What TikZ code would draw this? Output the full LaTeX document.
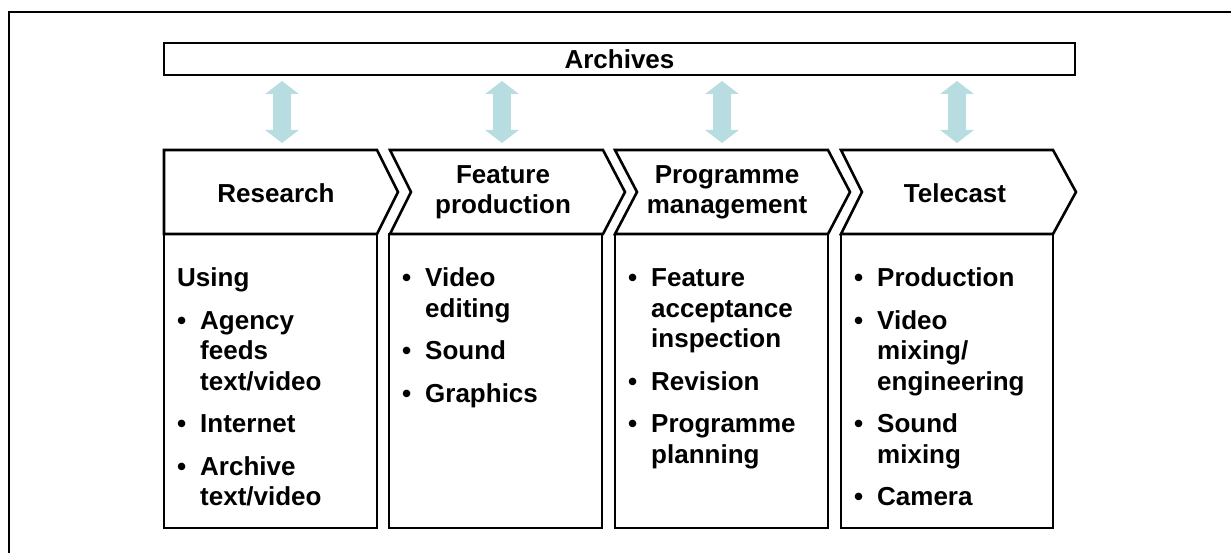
\documentclass[tikz,border=0pt]{standalone}
\usepackage{fontspec}
\setmainfont{Liberation Sans}
\usetikzlibrary{arrows.meta}
\definecolor{arrowblue}{RGB}{183,221,224}
\begin{document}
\begin{tikzpicture}[x=1pt,y=-1pt,
  shapeline/.style={draw=black,line width=2.6pt,line join=miter},
  framelne/.style={draw=black,line width=2pt},
  lbl/.style={font=\fontsize{26}{30}\selectfont\bfseries,align=center,inner sep=0pt},
  listtext/.style={font=\fontsize{26}{30.5}\selectfont\bfseries,inner sep=0pt,anchor=base west},
  dblarrow/.style={draw=arrowblue,line width=18pt,
    {Triangle[width=33pt,length=13pt]}-{Triangle[width=33pt,length=13pt]}}]
\useasboundingbox (0,0) rectangle (1231,553);
% outer frame (only top and left visible)
\draw[framelne] (9,553) -- (9,12) -- (1231,12);
% Archives bar
\draw[shapeline] (164,43) rectangle (1075,75);
\node[lbl] (arch) at (619.5,59) {Archives};
% chevrons
\draw[shapeline] (164,150) -- (377,150) -- (398,192) -- (377,234) -- (164,234) -- cycle;
\draw[shapeline] (390,150) -- (603,150) -- (625,192) -- (603,234) -- (390,234) -- (411,192) -- cycle;
\draw[shapeline] (615,150) -- (828,150) -- (850,192) -- (828,234) -- (615,234) -- (637,192) -- cycle;
\draw[shapeline] (841,150) -- (1053,150) -- (1076,192) -- (1053,234) -- (841,234) -- (862,192) -- cycle;
% body boxes
\draw[shapeline] (164,234) rectangle (377,528);
\draw[shapeline] (389,234) rectangle (602,528);
\draw[shapeline] (615,234) rectangle (828,528);
\draw[shapeline] (841,234) rectangle (1053,528);
% headings
\node[lbl] (h1) at (276,193) {Research};
\node[lbl] (h2) at (503,192) {Feature\\production};
\node[lbl] (h3) at (727,192) {Programme\\management};
\node[lbl] (h4) at (955,193) {Telecast};
% double arrows
\coordinate (a1t) at (282,81); \coordinate (a1b) at (282,143);
\coordinate (a2t) at (502,81); \coordinate (a2b) at (502,143);
\coordinate (a3t) at (722,81); \coordinate (a3b) at (722,143);
\coordinate (a4t) at (957,81); \coordinate (a4b) at (957,143);
\draw[dblarrow] (a1t) -- (a1b);
\draw[dblarrow] (a2t) -- (a2b);
\draw[dblarrow] (a3t) -- (a3b);
\draw[dblarrow] (a4t) -- (a4b);
% lists
\node[listtext] (l1) at (177,287) {\begin{tabular}[t]{@{}p{23pt}@{}l@{}}
\multicolumn{2}{@{}l@{}}{Using}\\[12pt]
\textbullet & Agency\\ & feeds\\ & text/video\\[12pt]
\textbullet & Internet\\[12pt]
\textbullet & Archive\\ & text/video
\end{tabular}};
\node[listtext] (l2) at (402,287) {\begin{tabular}[t]{@{}p{23pt}@{}l@{}}
\textbullet & Video\\ & editing\\[12pt]
\textbullet & Sound\\[12pt]
\textbullet & Graphics
\end{tabular}};
\node[listtext] (l3) at (628,287) {\begin{tabular}[t]{@{}p{23pt}@{}l@{}}
\textbullet & Feature\\ & acceptance\\ & inspection\\[12pt]
\textbullet & Revision\\[12pt]
\textbullet & Programme\\ & planning
\end{tabular}};
\node[listtext] (l4) at (854,287) {\begin{tabular}[t]{@{}p{23pt}@{}l@{}}
\textbullet & Production\\[12pt]
\textbullet & Video\\ & mixing/\\ & engineering\\[12pt]
\textbullet & Sound\\ & mixing\\[12pt]
\textbullet & Camera
\end{tabular}};
\end{tikzpicture}
\end{document}
